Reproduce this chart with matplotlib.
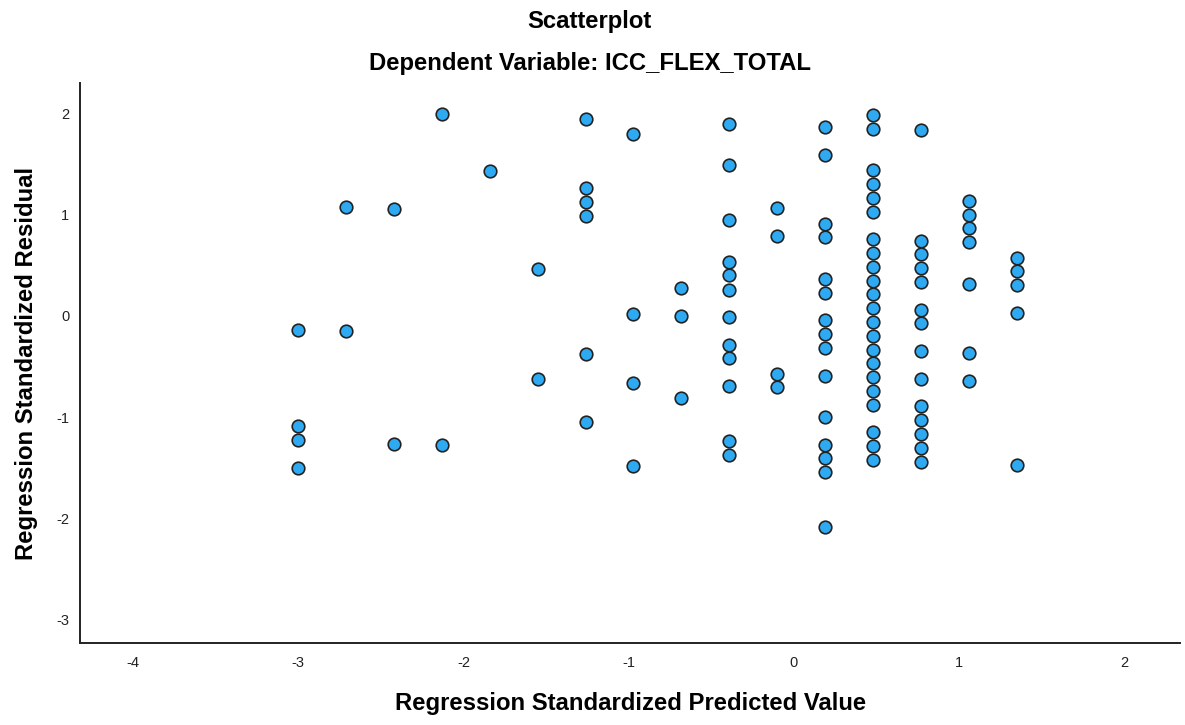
import matplotlib
matplotlib.use("Agg")
import matplotlib.pyplot as plt

# Predicted value levels (x) and residuals (y) per level
pred_levels = [-3.00, -2.71, -2.42, -2.13, -1.84, -1.55, -1.26, -0.97,
               -0.68, -0.39, -0.10, 0.19, 0.48, 0.77, 1.06, 1.35]
residuals_by_level = [
    [-0.136, -1.093, -1.232, -1.505],
    [1.075, -0.153],
    [1.063, -1.265],
    [2.000, -1.281],
    [1.439],
    [0.465, -0.628],
    [1.951, 1.271, 1.132, 0.993, -0.373, -1.054],
    [1.802, 0.023, -0.661, -1.482],
    [0.277, 0.003, -0.812],
    [1.904, 1.491, 0.947, 0.538, 0.402, 0.260, -0.014, -0.284, -0.420,
     -0.693, -1.242, -1.380],
    [1.070, 0.795, -0.571, -0.707],
    [1.872, 1.597, 0.914, 0.778, 0.366, 0.231, -0.044, -0.180, -0.317,
     -0.591, -1.000, -1.275, -1.410, -1.545, -2.093],
    [1.993, 1.855, 1.446, 1.307, 1.172, 1.033, 0.763, 0.624, 0.488, 0.350,
     0.214, 0.077, -0.059, -0.195, -0.334, -0.469, -0.604, -0.743, -0.878,
     -1.153, -1.291, -1.426],
    [1.838, 0.746, 0.610, 0.471, 0.337, 0.062, -0.074, -0.351, -0.624,
     -0.895, -1.034, -1.169, -1.304, -1.443],
    [1.142, 1.003, 0.867, 0.729, 0.320, -0.366, -0.641],
    [0.577, 0.442, 0.303, 0.030, -1.476],
]
x_ticks = [-4, -3, -2, -1, 0, 1, 2]
y_ticks = [-3, -2, -1, 0, 1, 2]

predicted = []
residual = []
for lvl, res in zip(pred_levels, residuals_by_level):
    for r in res:
        predicted.append(lvl)
        residual.append(r)

plt.rcParams['font.family'] = ['Liberation Sans', 'DejaVu Sans']

fig = plt.figure(figsize=(11.85, 7.25), dpi=100)
ax = fig.add_axes([0.0678, 0.1127, 0.928, 0.7733])

ax.scatter(predicted, residual, s=82, c='#2EAAF2', edgecolors='#222222',
           linewidths=1.2, zorder=3)

ax.set_xlim(-4.32, 2.34)
ax.set_ylim(-3.24, 2.31)
ax.set_xticks(x_ticks)
ax.set_yticks(y_ticks)
ax.set_xticklabels([str(t) for t in x_ticks])
ax.set_yticklabels([str(t) for t in y_ticks])
ax.tick_params(axis='both', length=0, labelsize=10.5, colors='#222222')
ax.tick_params(axis='x', pad=9)
ax.tick_params(axis='y', pad=8)

for s in ['top', 'right']:
    ax.spines[s].set_visible(False)
for s in ['left', 'bottom']:
    ax.spines[s].set_linewidth(1.4)
    ax.spines[s].set_color('#222222')

ax.set_xlabel('Regression Standardized Predicted Value', fontsize=17.2,
              fontweight='bold', labelpad=16)
ax.set_ylabel('Regression Standardized Residual', fontsize=17.2,
              fontweight='bold', labelpad=13)

fig.text(0.4975, 0.970, 'Scatterplot', ha='center', va='center',
         fontsize=17.2, fontweight='bold')
fig.text(0.4975, 0.912, 'Dependent Variable: ICC_FLEX_TOTAL', ha='center',
         va='center', fontsize=17.2, fontweight='bold')

fig.savefig('out.png', dpi=100)
